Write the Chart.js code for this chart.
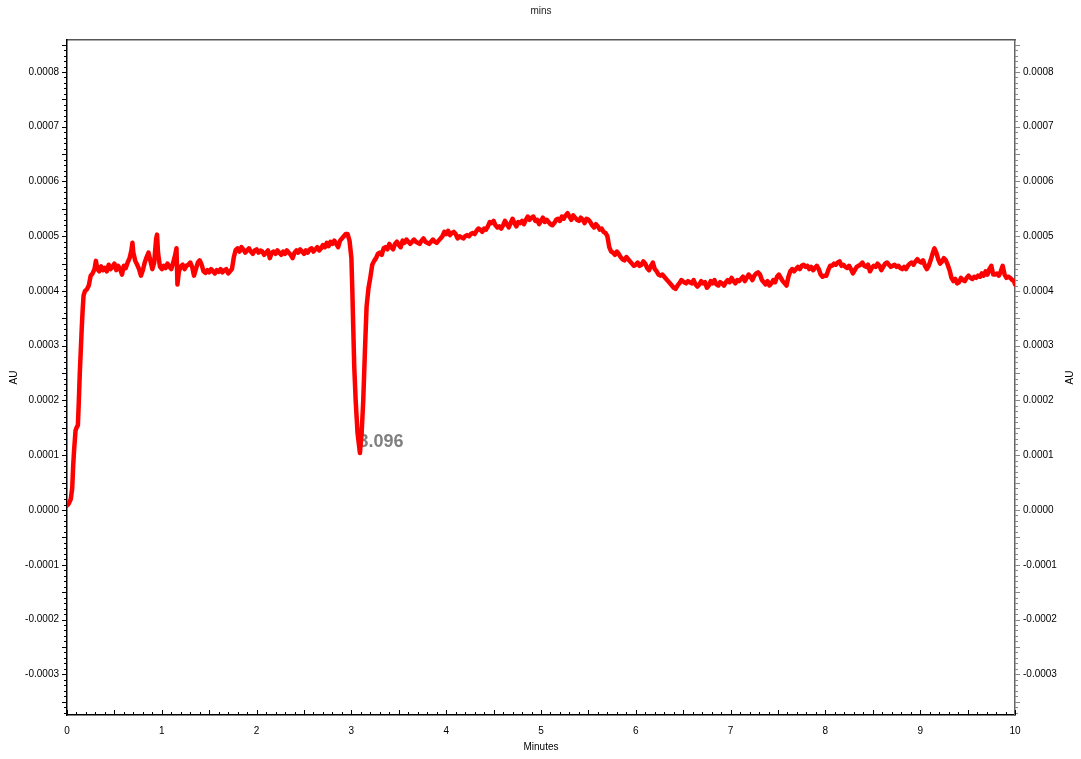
<!DOCTYPE html>
<html>
<head>
<meta charset="utf-8">
<script src="https://cdn.jsdelivr.net/npm/chart.js@4/dist/chart.umd.min.js"></script>
<style>
html,body{margin:0;padding:0;background:#fff;}
#wrap{width:1081px;height:759px;position:relative;}
</style>
</head>
<body>
<div id="wrap"><canvas id="c" width="1081" height="759"></canvas></div>
<script>
// ---- data (minutes, AU) ----
const times = [
0,0.02,0.04,0.055,0.065,0.075,0.09,0.1,0.115,0.125,0.135,0.145,0.155,0.165,0.175,0.19,0.21,0.23,0.25,0.27,0.29,0.305,0.32,
0.34,0.36,0.38,0.4,0.42,0.44,0.46,0.48,0.5,0.52,0.54,0.56,0.58,0.6,0.62,0.64,0.66,0.68,0.69,0.7,
0.72,0.74,0.76,0.78,0.8,0.82,0.84,0.86,0.88,0.9,0.92,0.94,0.95,0.96,0.98,
1,1.02,1.04,1.06,1.08,1.1,1.12,1.14,1.155,1.165,1.18,
1.2,1.22,1.24,1.26,1.28,1.3,1.32,1.34,1.36,1.38,
1.4,1.42,1.44,1.46,1.48,1.5,1.52,1.54,1.56,1.58,
1.6,1.62,1.64,1.66,1.68,1.7,1.72,1.74,1.76,1.78,
1.8,1.82,1.84,1.86,1.88,1.9,1.92,1.94,1.96,1.98,
2,2.02,2.04,2.06,2.08,2.1,2.12,2.14,2.16,2.18,
2.2,2.22,2.24,2.26,2.28,2.3,2.32,2.34,2.36,2.38,
2.4,2.42,2.44,2.46,2.48,2.5,2.52,2.54,2.56,2.58,
2.6,2.62,2.64,2.66,2.68,2.7,2.72,2.74,2.76,2.78,
2.8,2.82,2.84,2.86,2.88,2.9,2.92,2.94,2.96,2.98,
3,3.01,3.02,3.03,3.045,3.065,3.09,3.108,3.125,3.143,3.16,3.18,3.2,3.22,3.24,
3.26,3.28,3.3,3.32,3.34,3.36,3.38,3.4,3.42,3.44,
3.46,3.48,3.5,3.52,3.54,3.56,3.58,3.6,3.62,3.64,
3.66,3.68,3.7,3.72,3.74,3.76,3.78,3.8,3.82,3.84,
3.86,3.88,3.9,3.92,3.94,3.96,3.98,4,4.02,4.04,
4.06,4.08,4.1,4.12,4.14,4.16,4.18,4.2,4.22,4.24,
4.26,4.28,4.3,4.32,4.34,4.36,4.38,4.4,4.42,4.44,
4.46,4.48,4.5,4.52,4.54,4.56,4.58,4.6,4.62,4.64,
4.66,4.68,4.7,4.72,4.74,4.76,4.78,4.8,4.82,4.84,
4.86,4.88,4.9,4.92,4.94,4.96,4.98,5,5.02,5.04,
5.06,5.08,5.1,5.12,5.14,5.16,5.18,5.2,5.22,5.24,
5.26,5.28,5.3,5.32,5.34,5.36,5.38,5.4,5.42,5.44,
5.46,5.48,5.5,5.52,5.54,5.56,5.58,5.6,5.62,5.64,
5.66,5.68,5.7,5.72,5.74,5.76,5.78,5.8,5.82,5.84,
5.86,5.88,5.9,5.92,5.94,5.96,5.98,6,6.02,6.04,
6.06,6.08,6.1,6.12,6.14,6.16,6.18,6.2,6.22,6.24,
6.26,6.28,6.3,6.32,6.34,6.36,6.38,6.4,6.42,6.44,
6.46,6.48,
6.51,6.53,6.55,6.57,6.59,6.61,6.63,6.65,6.67,6.69,
6.71,6.73,6.75,6.77,6.79,6.81,6.83,6.85,6.87,6.89,
6.91,6.93,6.95,6.97,6.99,7.01,7.03,7.05,7.07,7.09,
7.11,7.13,7.15,7.17,7.19,7.21,7.23,7.25,7.27,7.29,
7.31,7.33,7.35,7.37,7.39,7.41,7.43,7.45,7.47,7.49,
7.51,7.53,7.55,7.57,7.59,7.61,7.63,7.65,7.67,7.69,
7.71,7.73,7.75,7.77,7.79,7.81,7.83,7.85,7.87,7.89,
7.91,7.93,7.95,7.97,7.99,8.01,8.03,8.05,8.07,8.09,
8.11,8.13,8.15,8.17,8.19,8.21,8.23,8.25,8.27,8.29,
8.31,8.33,8.35,8.37,8.39,8.41,8.43,8.45,8.47,8.49,
8.51,8.53,8.55,8.57,8.59,8.61,8.63,8.65,8.67,8.69,
8.71,8.73,8.75,8.77,8.79,8.81,8.83,8.85,8.87,8.89,
8.91,8.93,8.95,8.97,8.99,9.01,9.03,9.05,9.07,9.09,
9.11,9.13,9.15,9.17,9.19,9.21,9.23,9.25,9.27,9.29,
9.31,9.33,9.35,9.37,9.39,9.41,9.43,9.45,9.47,9.49,
9.51,9.53,9.55,9.57,9.59,9.61,9.63,9.65,9.67,9.69,
9.71,9.73,9.75,9.77,9.79,9.81,9.83,9.85,9.87,9.89,
9.91,9.93,9.95,9.97,9.99,10
];
const absorbance = [
8e-6,12e-6,20e-6,40e-6,80e-6,110e-6,145e-6,150e-6,155e-6,200e-6,250e-6,290e-6,330e-6,365e-6,392e-6,400e-6,403e-6,410e-6,428e-6,432e-6,440e-6,455e-6,440e-6,
436e-6,445e-6,438e-6,442e-6,436e-6,448e-6,440e-6,444e-6,450e-6,438e-6,446e-6,440e-6,430e-6,446e-6,442e-6,452e-6,460e-6,475e-6,488e-6,470e-6,
455e-6,448e-6,440e-6,428e-6,438e-6,452e-6,462e-6,470e-6,455e-6,440e-6,452e-6,495e-6,503e-6,470e-6,445e-6,
440e-6,446e-6,442e-6,450e-6,444e-6,440e-6,452e-6,465e-6,478e-6,412e-6,435e-6,
445e-6,448e-6,440e-6,446e-6,448e-6,452e-6,444e-6,428e-6,440e-6,452e-6,
456e-6,448e-6,436e-6,433e-6,438e-6,434e-6,440e-6,436e-6,432e-6,438e-6,
435e-6,440e-6,434e-6,438e-6,440e-6,432e-6,436e-6,440e-6,462e-6,475e-6,
478e-6,472e-6,480e-6,476e-6,470e-6,474e-6,478e-6,472e-6,468e-6,474e-6,
476e-6,470e-6,474e-6,472e-6,466e-6,470e-6,474e-6,460e-6,470e-6,472e-6,
468e-6,474e-6,470e-6,466e-6,472e-6,468e-6,474e-6,470e-6,466e-6,460e-6,
470e-6,474e-6,470e-6,476e-6,472e-6,468e-6,474e-6,470e-6,476e-6,478e-6,
472e-6,476e-6,480e-6,474e-6,478e-6,484e-6,480e-6,488e-6,482e-6,490e-6,
486e-6,492e-6,486e-6,480e-6,492e-6,496e-6,500e-6,504e-6,504e-6,492e-6,
460e-6,400e-6,330e-6,262e-6,200e-6,140e-6,104e-6,140e-6,200e-6,292e-6,371e-6,405e-6,425e-6,448e-6,455e-6,
460e-6,468e-6,470e-6,466e-6,478e-6,480e-6,476e-6,486e-6,480e-6,476e-6,
486e-6,490e-6,484e-6,480e-6,492e-6,488e-6,494e-6,490e-6,486e-6,490e-6,
494e-6,490e-6,488e-6,486e-6,492e-6,496e-6,490e-6,488e-6,486e-6,490e-6,
494e-6,490e-6,488e-6,492e-6,496e-6,500e-6,508e-6,504e-6,510e-6,502e-6,
506e-6,508e-6,504e-6,496e-6,500e-6,498e-6,496e-6,500e-6,502e-6,500e-6,
504e-6,506e-6,504e-6,510e-6,514e-6,512e-6,508e-6,514e-6,512e-6,518e-6,
526e-6,524e-6,528e-6,520e-6,516e-6,518e-6,514e-6,520e-6,528e-6,522e-6,
516e-6,524e-6,532e-6,524e-6,518e-6,526e-6,524e-6,528e-6,522e-6,530e-6,
536e-6,530e-6,534e-6,536e-6,528e-6,530e-6,522e-6,528e-6,534e-6,526e-6,
530e-6,526e-6,522e-6,520e-6,524e-6,530e-6,532e-6,528e-6,536e-6,532e-6,
538e-6,542e-6,536e-6,530e-6,538e-6,534e-6,530e-6,528e-6,534e-6,530e-6,
524e-6,532e-6,530e-6,526e-6,520e-6,516e-6,522e-6,518e-6,512e-6,514e-6,
508e-6,506e-6,500e-6,480e-6,472e-6,470e-6,466e-6,472e-6,468e-6,462e-6,
458e-6,456e-6,462e-6,458e-6,454e-6,450e-6,446e-6,448e-6,452e-6,446e-6,
448e-6,454e-6,450e-6,442e-6,438e-6,446e-6,452e-6,440e-6,436e-6,430e-6,
428e-6,430e-6,426e-6,422e-6,418e-6,414e-6,410e-6,406e-6,404e-6,410e-6,
414e-6,420e-6,
416e-6,414e-6,418e-6,416e-6,414e-6,420e-6,412e-6,408e-6,412e-6,418e-6,
414e-6,416e-6,406e-6,410e-6,418e-6,414e-6,420e-6,412e-6,410e-6,416e-6,
414e-6,410e-6,416e-6,420e-6,416e-6,424e-6,418e-6,414e-6,420e-6,418e-6,
422e-6,426e-6,418e-6,424e-6,430e-6,426e-6,420e-6,428e-6,432e-6,434e-6,
430e-6,420e-6,416e-6,412e-6,418e-6,410e-6,414e-6,420e-6,416e-6,426e-6,
430e-6,424e-6,418e-6,414e-6,410e-6,426e-6,436e-6,440e-6,436e-6,440e-6,
444e-6,440e-6,446e-6,448e-6,444e-6,446e-6,440e-6,444e-6,438e-6,442e-6,
446e-6,440e-6,430e-6,426e-6,428e-6,428e-6,438e-6,446e-6,446e-6,450e-6,
448e-6,452e-6,454e-6,446e-6,448e-6,444e-6,442e-6,446e-6,440e-6,432e-6,
438e-6,444e-6,446e-6,448e-6,452e-6,446e-6,444e-6,448e-6,436e-6,442e-6,
446e-6,444e-6,450e-6,446e-6,438e-6,444e-6,450e-6,452e-6,448e-6,444e-6,
446e-6,448e-6,444e-6,446e-6,442e-6,440e-6,444e-6,440e-6,446e-6,450e-6,
452e-6,448e-6,454e-6,458e-6,454e-6,452e-6,456e-6,446e-6,440e-6,446e-6,
456e-6,468e-6,478e-6,470e-6,458e-6,450e-6,454e-6,460e-6,456e-6,448e-6,
438e-6,424e-6,418e-6,422e-6,414e-6,416e-6,424e-6,420e-6,418e-6,424e-6,
428e-6,424e-6,422e-6,426e-6,424e-6,428e-6,426e-6,432e-6,428e-6,436e-6,
430e-6,440e-6,446e-6,430e-6,430e-6,432e-6,428e-6,436e-6,446e-6,430e-6,
424e-6,426e-6,424e-6,420e-6,418e-6,412e-6
];
const xTickValues = [0,1,2,3,4,5,6,7,8,9,10];
const yTickValues = [-0.0003,-0.0002,-0.0001,0,0.0001,0.0002,0.0003,0.0004,0.0005,0.0006,0.0007,0.0008];
const peakTimes = [3.096];
const peakValues = [104e-6];
const peakLabels = ['3.096'];

const X_MIN = 0, X_MAX = 10, Y_MIN = -0.0003744, Y_MAX = 0.0008584;
const FONT = '"Liberation Sans", Arial, Helvetica, sans-serif';

const points = times.map((t, i) => ({x: t, y: absorbance[i]}));

const decor = {
  id: 'decor',
  beforeDatasetsDraw(chart) {
    const ctx = chart.ctx, xs = chart.scales.x, ys = chart.scales.y;
    ctx.save();
    ctx.fillStyle = '#808080';
    ctx.font = 'bold 18px ' + FONT;
    ctx.textAlign = 'left';
    ctx.textBaseline = 'middle';
    peakTimes.forEach((t, i) => {
      ctx.fillText(peakLabels[i], xs.getPixelForValue(t) - 2, ys.getPixelForValue(peakValues[i]) - 11);
    });
    ctx.restore();
  },
  afterDraw(chart) {
    const ctx = chart.ctx, xs = chart.scales.x, ys = chart.scales.y;
    const a = chart.chartArea;
    ctx.save();
    ctx.lineWidth = 1;
    // y minor/major tick marks
    for (let k = -37; k <= 85; k++) {
      const py = Math.round(ys.getPixelForValue(k * 1e-5)) + 0.5;
      const len = (k % 5 === 0) ? 5 : 3;
      ctx.strokeStyle = '#000';
      ctx.beginPath(); ctx.moveTo(a.left, py); ctx.lineTo(a.left - len, py); ctx.stroke();
      ctx.strokeStyle = '#888';
      ctx.beginPath(); ctx.moveTo(a.right, py); ctx.lineTo(a.right + len, py); ctx.stroke();
    }
    // x tick marks (inward)
    ctx.strokeStyle = '#000';
    for (let k = 0; k <= 100; k++) {
      const px = Math.round(xs.getPixelForValue(k / 10)) + 0.5;
      const len = (k % 5 === 0) ? 5 : 3;
      ctx.beginPath(); ctx.moveTo(px, a.bottom); ctx.lineTo(px, a.bottom - len); ctx.stroke();
    }
    // titles
    ctx.fillStyle = '#000';
    ctx.font = '10px ' + FONT;
    ctx.textAlign = 'center';
    ctx.textBaseline = 'middle';
    ctx.fillText('Minutes', (a.left + a.right) / 2, 747);
    ctx.fillStyle = '#222';
    ctx.fillText('mins', (a.left + a.right) / 2, 11);
    ctx.fillStyle = '#000';
    [[14, 'AU'], [1070, 'AU']].forEach(([x, s]) => {
      ctx.save();
      ctx.translate(x, (a.top + a.bottom) / 2);
      ctx.rotate(-Math.PI / 2);
      ctx.fillText(s, 0, 0);
      ctx.restore();
    });
    ctx.restore();
  }
};

const yTicksCommon = {
  color: '#000',
  font: {family: FONT, size: 10},
  callback: v => Number(v).toFixed(4)
};

new Chart(document.getElementById('c'), {
  type: 'line',
  data: {
    datasets: [{
      data: points,
      borderColor: '#ff0000',
      borderWidth: 4.5,
      pointRadius: 0,
      tension: 0,
      borderJoinStyle: 'round',
      borderCapStyle: 'round',
      fill: false
    }]
  },
  options: {
    responsive: false,
    animation: false,
    devicePixelRatio: 1,
    layout: {padding: 0},
    plugins: {legend: {display: false}, tooltip: {enabled: false}, title: {display: false}},
    scales: {
      x: {
        type: 'linear', position: 'bottom', min: X_MIN, max: X_MAX,
        afterBuildTicks: s => { s.ticks = xTickValues.map(v => ({value: v})); },
        afterFit: s => { s.height = 44; },
        grid: {display: false},
        border: {display: true, color: '#000', width: 1.5},
        ticks: {color: '#000', font: {family: FONT, size: 10}, padding: 2, maxRotation: 0, autoSkip: false,
                callback: v => String(v)}
      },
      x2: {
        type: 'linear', position: 'top', min: X_MIN, max: X_MAX,
        afterFit: s => { s.height = 40; },
        grid: {display: false},
        border: {display: true, color: '#555', width: 1.5},
        ticks: {display: false}
      },
      y: {
        type: 'linear', position: 'left', min: Y_MIN, max: Y_MAX,
        afterBuildTicks: s => { s.ticks = yTickValues.map(v => ({value: v})); },
        afterFit: s => { s.width = 67; },
        grid: {display: false},
        border: {display: true, color: '#000', width: 1.5},
        ticks: Object.assign({padding: 0, autoSkip: false}, yTicksCommon)
      },
      y2: {
        type: 'linear', position: 'right', min: Y_MIN, max: Y_MAX,
        afterBuildTicks: s => { s.ticks = yTickValues.map(v => ({value: v})); },
        afterFit: s => { s.width = 66; },
        grid: {display: false},
        border: {display: true, color: '#666', width: 1.5},
        ticks: Object.assign({padding: 0, autoSkip: false}, yTicksCommon)
      }
    }
  },
  plugins: [decor]
});
</script>
</body>
</html>
